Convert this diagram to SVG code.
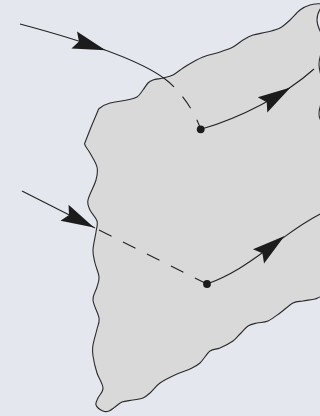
<svg xmlns="http://www.w3.org/2000/svg" xmlns:xlink="http://www.w3.org/1999/xlink" width="320" height="416" viewBox="0 0 320 416">
<style>
.edge{fill:none;stroke:#222;stroke-width:1.1;stroke-linecap:butt}
.dash{fill:none;stroke:#222;stroke-width:1.1}
.head{fill:#1c1c1c}
.dot{fill:#1c1c1c}
.basin{fill:#d9d9d9;stroke:#2a2a2a;stroke-width:1.1;stroke-linejoin:round}
</style>
<defs>
<path id="ah" d="M0,0 L-33,-9 L-28,0 L-33,9 Z"/>
</defs>
<rect x="0" y="0" width="320" height="416" fill="#e4e8ee"/>
<g id="basin">
<path class="basin" d="M325,3 C318,4 314.2,3.8 310,5 S303.3,7.5 300,10 S293.3,17 290,20 S283.8,26 280,28 S271.5,30.8 267,32 S257,33.7 253,35 S246.3,38 243,40 S236.8,45 233,47 S225,50.3 220,52 S207.5,55.3 203,57 S196.3,60.2 193,62 S186.3,65.8 183,68 S176.3,73.3 173,75 S166.3,77.2 163,78 S155.5,79.2 153,80 S149.7,81.3 148,83 S144.8,87.7 143,90 S139.7,95.3 137,97 S131.5,99 127,100 S114.5,101.7 110,103 S102.2,106.3 100,108 S99.3,107.7 97,113 S88,134.7 86,140 S84.3,142.8 85,145 S88,149.3 90,153 S96,162.5 97,167 S97.5,174.5 96,180 S89,195 88,200 S88.5,206.5 90,210 S96,217.3 97,221 S96.7,227.2 96,232 S93.2,244.8 93,250 S94,258.5 95,263 S98.7,273 99,277 S98,283.2 97,287 S92.7,294.8 93,300 S98.3,313.2 99,318 S98,324.5 97,329 S93.7,340.5 93,345 S92.3,351.3 93,356 S95.3,367.7 97,373 S102.8,383.8 103,388 S99.2,395.2 98,398 S95.2,402.8 96,405 S100.8,410 103,411 S107,411.7 109,411 S112.8,408.5 115,407 S119,403.2 122,402 S129.5,400.7 133,400 S140.2,399.2 143,398 S147.2,395.5 150,393 S155.5,386.2 160,383 S172,376.3 177,374 S186.2,370.8 190,369 S196.7,366 200,363 S206.7,353.5 210,351 S216.2,349.7 220,348 S229.7,343.3 233,341 S237.5,336.5 240,334 S245.2,327.8 248,326 S253.7,323.8 257,323 S264.2,322.7 268,321 S275.8,316 280,313 S289.2,305 293,303 S299.3,301.7 303,301 S312.2,299.7 315,299 S317.5,297.5 320,297 S328,296 330,296 L336,280 L336,140 C330,135 319,122 319,114 C319,104 325,98 324,90 C323,80 319,72 319,64 C319,56 324,48 323,40 C322,32 317,28 317,20 C317,12 322,6 325,3 Z"/>
</g>
<g id="connectors">
<path class="edge" d="M20,24 C80,40 140,60 165,79"/>
<path class="dash" d="M165,79 C180,90 195,112 200.7,129.3" stroke-dasharray="12 13 14 13 20"/>
<use xlink:href="#ah" href="#ah" class="head" transform="translate(105.6,50.2) rotate(18)"/>
<path class="edge" d="M200.7,129.3 C240,118 285,95 314,69"/>
<use xlink:href="#ah" href="#ah" class="head" transform="translate(290.5,87.5) rotate(-32)"/>
<path class="edge" d="M22,191 L95,228"/>
<path class="dash" d="M99,230 L205,283" stroke-dasharray="14 12.8"/>
<use xlink:href="#ah" href="#ah" class="head" transform="translate(94,227.5) rotate(26.7)"/>
<path class="edge" d="M207,284 C235,274 255,258 272,246 C290,233 300,224 322,213"/>
<use xlink:href="#ah" href="#ah" class="head" transform="translate(284.5,236) rotate(-38)"/>
</g>
<g id="node-upper"><circle class="dot" cx="200.7" cy="129.3" r="3.9"/></g>
<g id="node-lower"><circle class="dot" cx="207" cy="284" r="3.9"/></g>
</svg>
